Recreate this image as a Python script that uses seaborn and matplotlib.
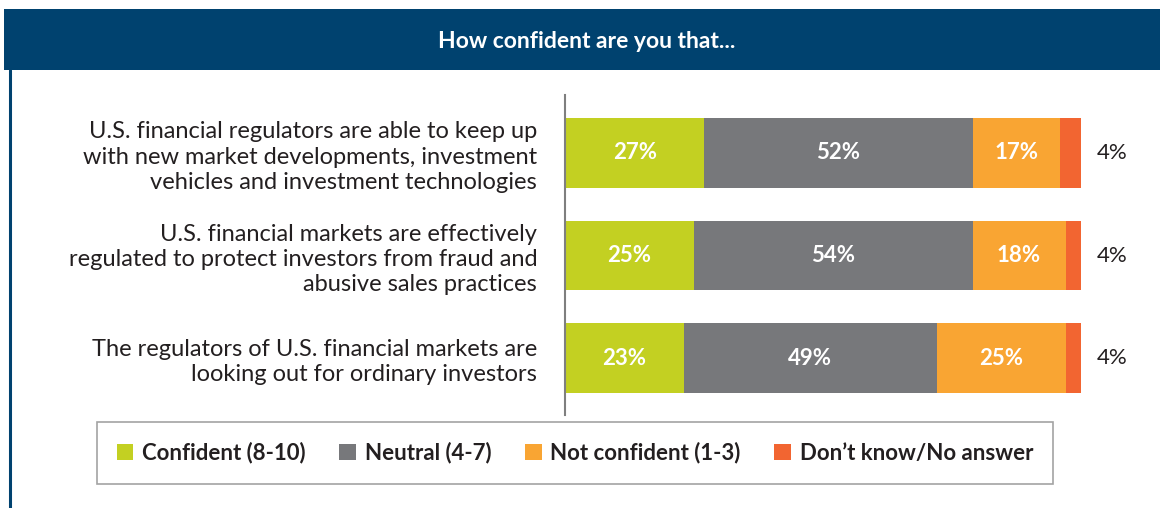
import matplotlib
matplotlib.use("Agg")
import matplotlib.pyplot as plt
import seaborn as sns
import pandas as pd
import numpy as np
from matplotlib.patches import Rectangle, Patch
from matplotlib.lines import Line2D

sns.set_theme(style="white")
plt.rcParams['font.family'] = ['Lato', 'DejaVu Sans']

statements = [
    "U.S. financial regulators are able to keep up\nwith new market developments, investment\nvehicles and investment technologies",
    "U.S. financial markets are effectively\nregulated to protect investors from fraud and\nabusive sales practices",
    "The regulators of U.S. financial markets are\nlooking out for ordinary investors",
]
series_names = ["Confident (8-10)", "Neutral (4-7)", "Not confident (1-3)", "Don’t know/No answer"]
confident = [27, 25, 23]
neutral = [52, 54, 49]
not_confident = [17, 18, 25]
dont_know = [4, 4, 4]
title = "How confident are you that..."

colors = ["#C3D022", "#77787B", "#F9A533", "#F26531"]
header_color = "#00426F"

series = [confident, neutral, not_confident, dont_know]
df = pd.DataFrame({"statement": statements})
cum = np.zeros(len(statements))
for name, vals in zip(series_names, series):
    cum = cum + np.array(vals)
    df[name] = cum.copy()

fig = plt.figure(figsize=(11.6, 5.08), dpi=100)
ax = fig.add_axes([565/1160, 1-415/508, 516/1160, 320/508])

for i in range(len(series_names) - 1, -1, -1):
    sns.barplot(data=df, x=series_names[i], y="statement", color=colors[i],
                orient="h", width=0.68, ax=ax, saturation=1, linewidth=0, order=statements)

ax.set_xlim(0, 100)
ax.set_ylim(2.555, -0.565)
ax.set_xlabel("")
ax.set_ylabel("")
ax.set_xticks([])
for s in ["top", "right", "bottom"]:
    ax.spines[s].set_visible(False)
ax.spines["left"].set_color("#7F7F7F")
ax.spines["left"].set_linewidth(1.5)
ax.tick_params(axis="y", length=0, pad=20)
for lbl in ax.get_yticklabels():
    lbl.set_fontsize(17)
    lbl.set_color("#231F20")
    lbl.set_multialignment("right")
    lbl.set_linespacing(1.25)

# value labels
for j in range(len(statements)):
    start = 0
    for i, vals in enumerate(series):
        v = vals[j]
        if i < 3:
            ax.text(start + v / 2, j, f"{v}%", ha="center", va="center",
                    color="white", fontsize=16, fontweight="bold")
        else:
            ax.text(103, j, f"{v}%", ha="left", va="center",
                    color="#231F20", fontsize=16, clip_on=False)
        start += v

# header band
fig.patches.append(Rectangle((4/1160, 1-70/508), 1, 61/508, transform=fig.transFigure,
                             facecolor=header_color, edgecolor="none", zorder=0))
fig.lines.append(Line2D([10/1160, 10/1160], [0, 1-70/508], transform=fig.transFigure,
                        color=header_color, linewidth=2.2))
fig.text(587/1160, 1-42/508, title, ha="center", va="center", color="white",
         fontsize=16.5, fontweight="bold")

handles = [Patch(facecolor=c, edgecolor="none") for c in colors]
leg = fig.legend(handles, series_names, loc="center", bbox_to_anchor=(575/1160, 1-453/508),
                 ncol=4, frameon=True, fontsize=16, handlelength=0.75, handleheight=0.75,
                 handletextpad=0.4, columnspacing=1.5, borderpad=0.9, fancybox=False,
                 borderaxespad=0)
leg.get_frame().set_edgecolor("#8C8C8C")
leg.get_frame().set_linewidth(1.2)
for t in leg.get_texts():
    t.set_color("#231F20")
    t.set_fontweight("bold")

fig.savefig("out.png", dpi=100)
